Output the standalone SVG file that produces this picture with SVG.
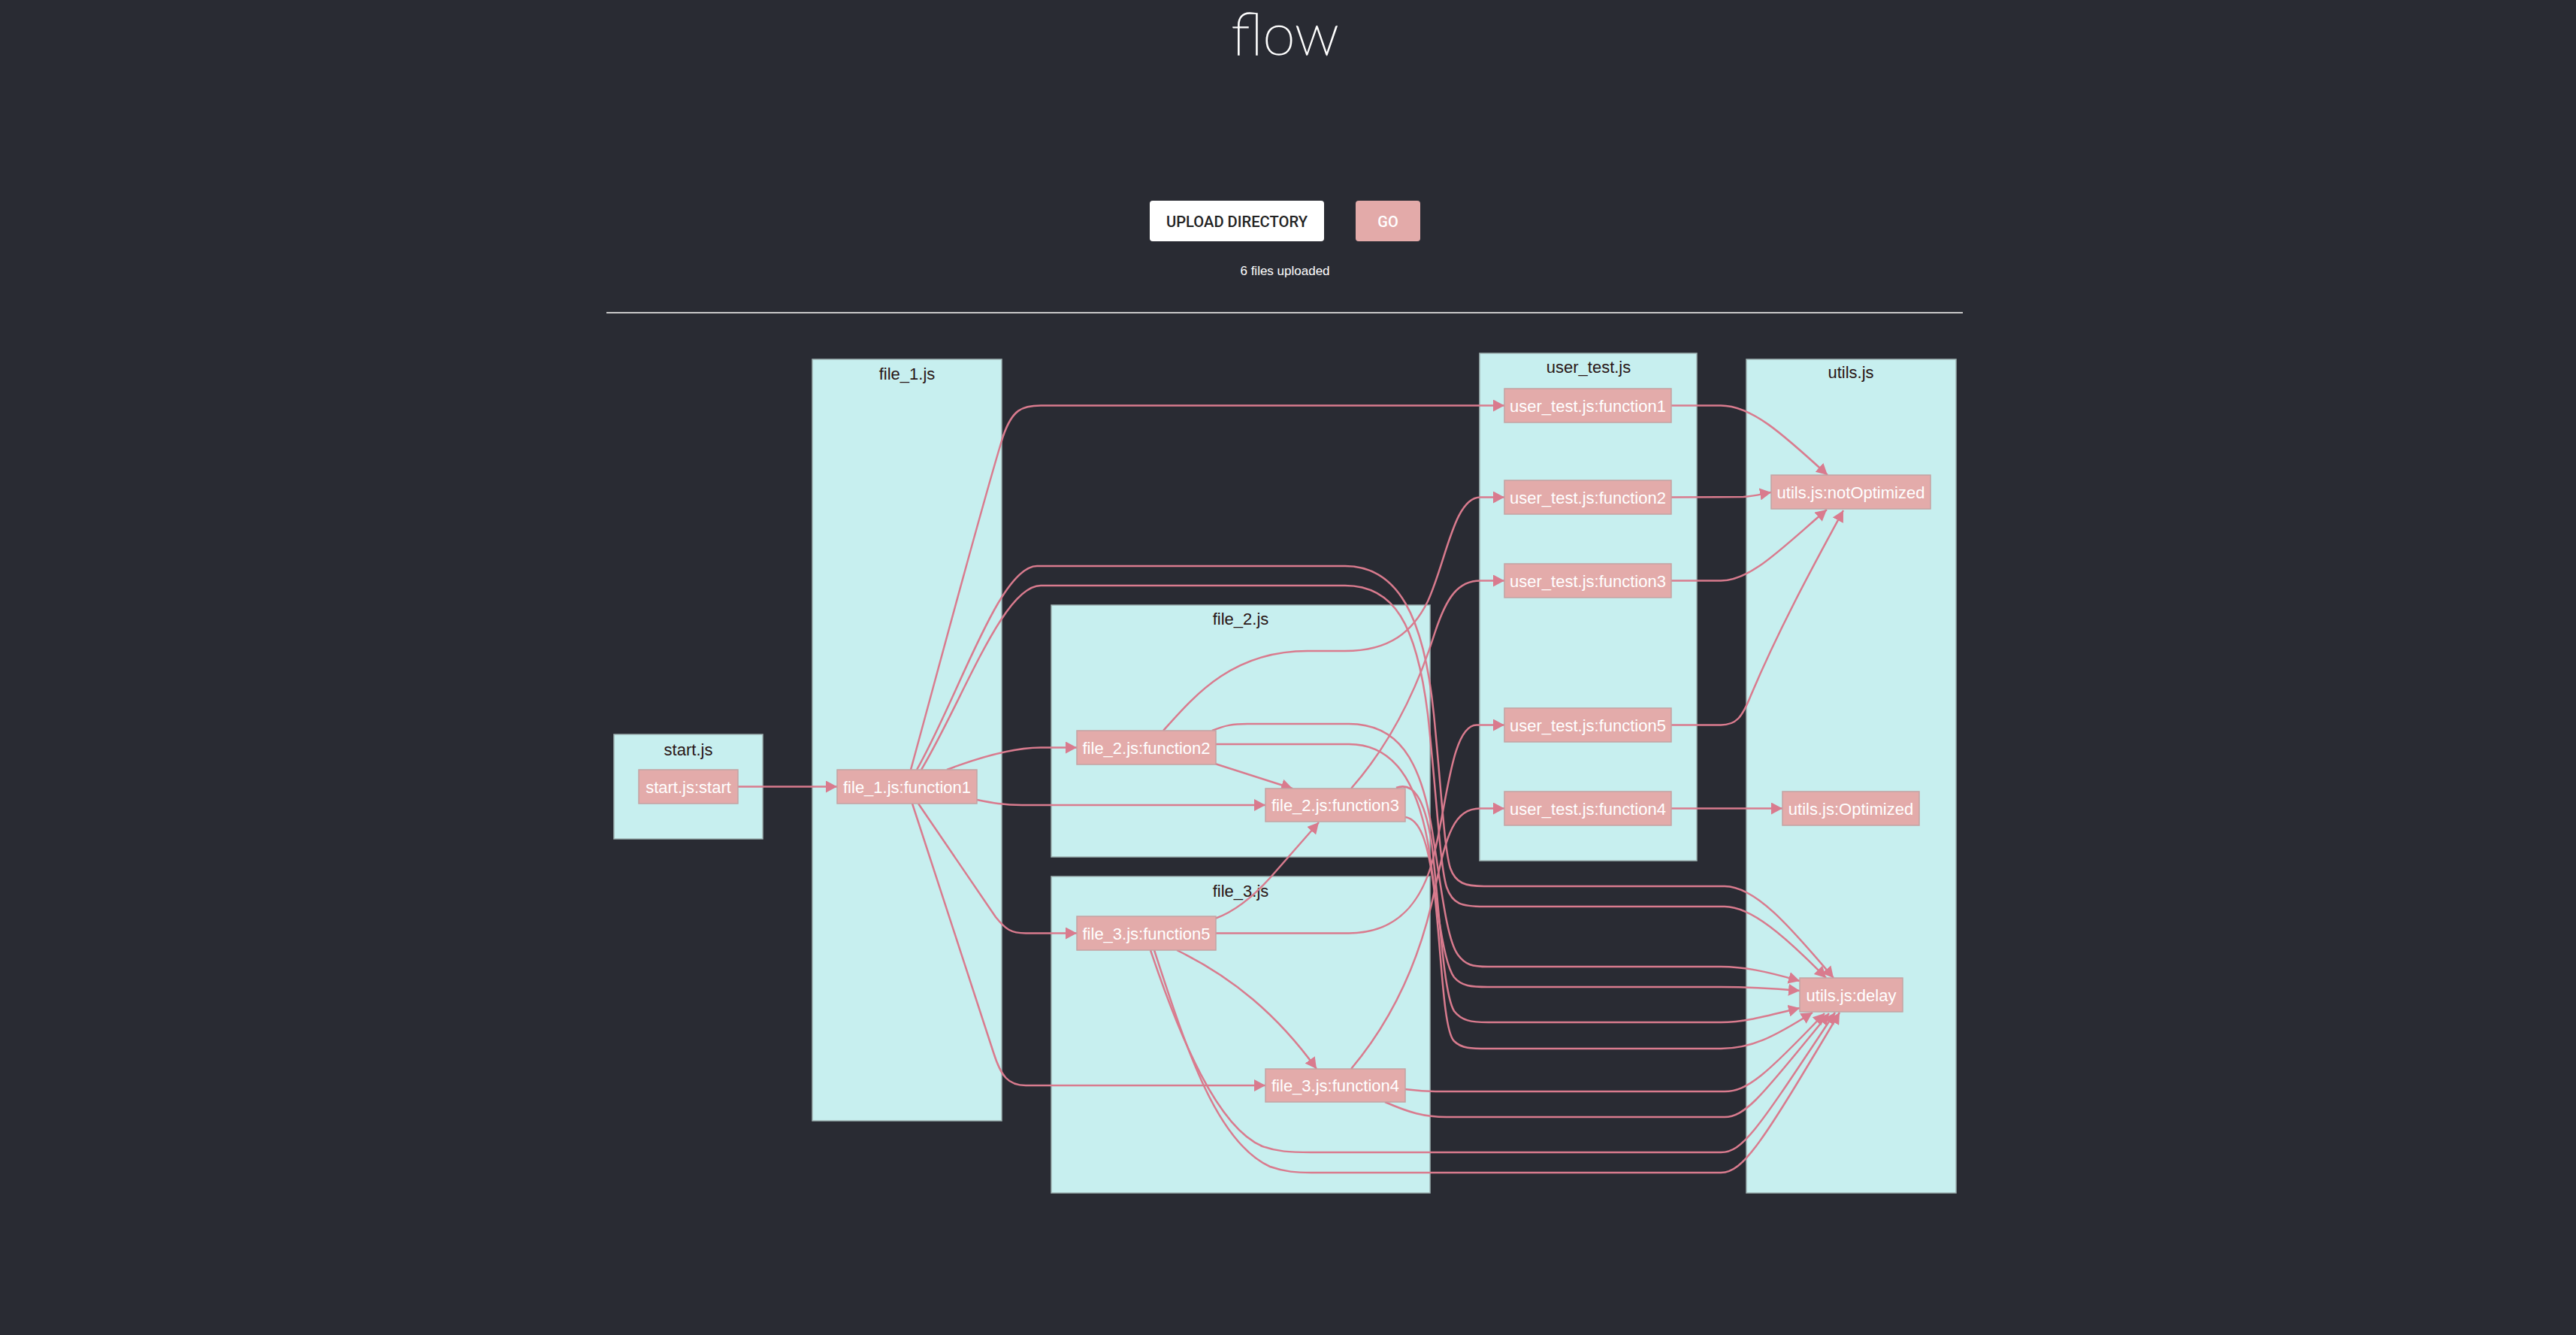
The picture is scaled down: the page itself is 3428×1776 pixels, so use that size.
<svg xmlns="http://www.w3.org/2000/svg" width="3428" height="1776" viewBox="0 0 3428 1776">
<defs>
<style>
.bg{fill:#292b33}
.cl{fill:#c7efef;stroke:#9fb4b4;stroke-width:1.5}
.cll{font-family:"Liberation Sans",Arial,sans-serif;font-size:22px;fill:#2a1616;text-anchor:middle}
.nd{fill:#e3abaa;stroke:#c4a3a3;stroke-width:1.5}
.ndl{font-family:"Liberation Sans",Arial,sans-serif;font-size:22px;fill:#ffffff;text-anchor:middle}
.e{fill:none;stroke:#d97b8e;stroke-width:2.5}
.ea{fill:none;stroke:#d97b8e;stroke-width:2.5;marker-end:url(#arr)}
</style>
<marker id="arr" markerUnits="userSpaceOnUse" markerWidth="16" markerHeight="16" refX="15" refY="8" orient="auto">
<path d="M0,0 L15,8 L0,16 z" fill="#d97b8e"/>
</marker>
</defs>
<rect class="bg" x="0" y="0" width="3428" height="1776"/>

<g id="header">
<text x="1710" y="73" font-family="Lato,'Open Sans',sans-serif" font-weight="100" font-size="78" fill="#ffffff" stroke="#ffffff" stroke-width="1.6" text-anchor="middle">flow</text>
<rect x="1530" y="267" width="232" height="54" rx="4" fill="#ffffff"/>
<text x="1646" y="302" font-family="Roboto,'Liberation Sans',sans-serif" font-weight="500" font-size="20" fill="#222222" text-anchor="middle" textLength="188" lengthAdjust="spacingAndGlyphs">UPLOAD DIRECTORY</text>
<rect x="1804" y="267" width="86" height="54" rx="4" fill="#e3aaa9"/>
<text x="1847" y="302" font-family="Roboto,'Liberation Sans',sans-serif" font-weight="500" font-size="20" fill="#ffffff" text-anchor="middle">GO</text>
<text x="1710" y="366" font-family="'Liberation Sans',Arial,sans-serif" font-size="17" fill="#ffffff" text-anchor="middle">6 files uploaded</text>
<line x1="807" y1="416" x2="2612" y2="416" stroke="#c8c8c8" stroke-width="2"/>
</g>

<g id="clusters">
<g id="cluster-start"><rect class="cl" x="817" y="977" width="198" height="139"/><text class="cll" x="916" y="1005">start.js</text></g>
<g id="cluster-file1"><rect class="cl" x="1081" y="478" width="252" height="1013"/><text class="cll" x="1207" y="505">file_1.js</text></g>
<g id="cluster-file2"><rect class="cl" x="1399" y="805" width="504" height="335"/><text class="cll" x="1651" y="831">file_2.js</text></g>
<g id="cluster-file3"><rect class="cl" x="1399" y="1166" width="504" height="421"/><text class="cll" x="1651" y="1193">file_3.js</text></g>
<g id="cluster-user_test"><rect class="cl" x="1969" y="470" width="289" height="675"/><text class="cll" x="2114" y="496">user_test.js</text></g>
<g id="cluster-utils"><rect class="cl" x="2324" y="478" width="279" height="1109"/><text class="cll" x="2463" y="503">utils.js</text></g>
</g>

<g id="connectors">
<path class="ea" d="M982,1046.5 L1114,1046.5"/>
<path class="ea" d="M1212,1024 C1250,885 1310,660 1335,580 C1347,545 1360,539.5 1385,539.5 L2002,539.5"/>
<path class="ea" d="M1220,1024 C1275,928 1330,753 1380,753 L1790,753 C1860,753 1895,820 1908,950 C1918,1050 1922,1130 1930,1155 C1937,1175 1950,1179 1975,1179 L2295,1179 C2335,1179 2380,1230 2440,1301"/>
<path class="ea" d="M1226,1024 C1282,930 1335,779 1385,779 L1790,779 C1855,779 1885,830 1900,950 C1912,1060 1916,1150 1925,1180 C1933,1203 1945,1206 1975,1206 L2295,1206 C2330,1206 2375,1245 2430,1301"/>
<path class="ea" d="M1260,1024 C1310,1005 1350,994.5 1385,994.5 L1433,994.5"/>
<path class="ea" d="M1300,1064 C1320,1068 1335,1071 1360,1071 L1684,1071"/>
<path class="ea" d="M1222,1069 L1325,1220 C1338,1236 1345,1241.5 1365,1241.5 L1433,1241.5"/>
<path class="ea" d="M1214,1069 L1322,1400 C1332,1432 1342,1444 1365,1444 L1684,1444"/>

<path class="ea" d="M1617,1016 L1720,1049"/>
<path class="ea" d="M1548,972 C1590,925 1640,866 1740,866 L1790,866 C1850,866 1880,840 1900,800 C1925,745 1935,661.5 1970,661.5 L2002,661.5"/>
<path class="ea" d="M1613,972 C1630,965 1640,963 1660,963 L1795,963 C1860,963 1890,1010 1905,1100 C1918,1180 1925,1250 1940,1270 C1950,1284 1960,1286 1980,1286 L2290,1286 C2320,1286 2350,1292 2395,1305"/>
<path class="ea" d="M1618,990 L1795,990 C1855,990 1885,1040 1900,1120 C1912,1200 1920,1280 1935,1300 C1945,1312 1958,1313 1980,1313 L2290,1313 C2330,1313 2360,1315 2395,1318"/>

<path class="ea" d="M1798,1049 C1850,990 1885,920 1910,840 C1925,795 1940,772.5 1970,772.5 L2002,772.5"/>
<path class="ea" d="M1858,1048 C1880,1040 1895,1060 1905,1120 C1915,1200 1920,1320 1935,1345 C1945,1358 1958,1360 1980,1360 L2290,1360 C2320,1360 2350,1352 2395,1341"/>
<path class="ea" d="M1870,1087 C1890,1090 1900,1120 1908,1180 C1918,1260 1920,1370 1935,1385 C1945,1395 1958,1395 1980,1395 L2290,1395 C2330,1395 2360,1380 2412,1347"/>

<path class="ea" d="M1617,1222 C1645,1212 1670,1190 1690,1168 L1755,1094"/>
<path class="ea" d="M1566,1264 C1640,1300 1700,1350 1752,1422"/>
<path class="ea" d="M1618,1241.5 L1795,1241.5 C1860,1241.5 1890,1200 1905,1150 C1925,1080 1930,964.5 1965,964.5 L2002,964.5"/>
<path class="ea" d="M1531,1264 C1570,1380 1620,1500 1680,1525 C1700,1532 1715,1533 1745,1533 L2290,1533 C2320,1533 2340,1500 2442,1347"/>
<path class="ea" d="M1536,1264 C1580,1400 1620,1520 1690,1552 C1710,1559 1725,1560 1745,1560 L2290,1560 C2320,1560 2345,1520 2448,1347"/>

<path class="ea" d="M1798,1422 C1850,1360 1890,1280 1910,1180 C1925,1110 1935,1075.5 1970,1075.5 L2002,1075.5"/>
<path class="ea" d="M1870,1449 C1885,1451 1890,1452 1910,1452 L2295,1452 C2325,1452 2350,1430 2428,1348"/>
<path class="ea" d="M1843,1466 C1875,1480 1895,1486 1925,1486 L2295,1486 C2325,1486 2350,1450 2434,1348"/>

<path class="ea" d="M2224,539.5 L2290,539.5 C2330,539.5 2370,575 2432,632"/>
<path class="ea" d="M2224,661.5 L2320,661 C2335,660 2345,657 2357,655"/>
<path class="ea" d="M2224,772.5 L2290,772.5 C2330,772.5 2370,730 2431,678"/>
<path class="ea" d="M2224,964.5 L2290,964.5 C2310,964.5 2318,955 2330,925 C2370,830 2420,740 2453,679"/>
<path class="ea" d="M2224,1075.5 L2372,1075.5"/>
</g>

<g id="node-start-start"><rect class="nd" x="850" y="1024" width="132" height="45"/><text class="ndl" x="916" y="1054.5">start.js:start</text></g>
<g id="node-file1-function1"><rect class="nd" x="1114" y="1024" width="186" height="45"/><text class="ndl" x="1207" y="1054.5">file_1.js:function1</text></g>
<g id="node-file2-function2"><rect class="nd" x="1433" y="972" width="185" height="45"/><text class="ndl" x="1525.5" y="1002.5">file_2.js:function2</text></g>
<g id="node-file2-function3"><rect class="nd" x="1684" y="1049" width="186" height="44"/><text class="ndl" x="1777" y="1079">file_2.js:function3</text></g>
<g id="node-file3-function5"><rect class="nd" x="1433" y="1219" width="185" height="45"/><text class="ndl" x="1525.5" y="1249.5">file_3.js:function5</text></g>
<g id="node-file3-function4"><rect class="nd" x="1684" y="1422" width="186" height="44"/><text class="ndl" x="1777" y="1452">file_3.js:function4</text></g>
<g id="node-user_test-function1"><rect class="nd" x="2002" y="517" width="222" height="45"/><text class="ndl" x="2113" y="547.5">user_test.js:function1</text></g>
<g id="node-user_test-function2"><rect class="nd" x="2002" y="639" width="222" height="45"/><text class="ndl" x="2113" y="669.5">user_test.js:function2</text></g>
<g id="node-user_test-function3"><rect class="nd" x="2002" y="750" width="222" height="45"/><text class="ndl" x="2113" y="780.5">user_test.js:function3</text></g>
<g id="node-user_test-function5"><rect class="nd" x="2002" y="942" width="222" height="45"/><text class="ndl" x="2113" y="972.5">user_test.js:function5</text></g>
<g id="node-user_test-function4"><rect class="nd" x="2002" y="1053" width="222" height="45"/><text class="ndl" x="2113" y="1083.5">user_test.js:function4</text></g>
<g id="node-utils-notOptimized"><rect class="nd" x="2357" y="632" width="212" height="45"/><text class="ndl" x="2463" y="662.5">utils.js:notOptimized</text></g>
<g id="node-utils-Optimized"><rect class="nd" x="2372" y="1053" width="182" height="45"/><text class="ndl" x="2463" y="1083.5">utils.js:Optimized</text></g>
<g id="node-utils-delay"><rect class="nd" x="2395" y="1301" width="137" height="45"/><text class="ndl" x="2463.5" y="1331.5">utils.js:delay</text></g>
</svg>
